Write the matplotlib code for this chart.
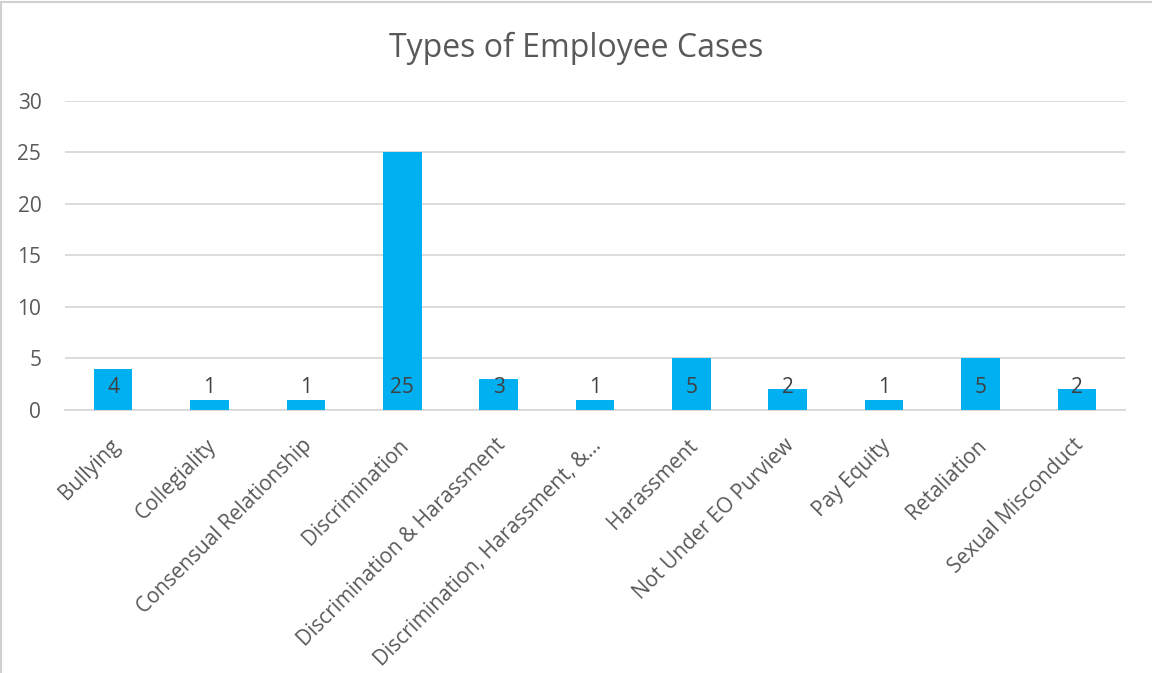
import matplotlib
matplotlib.use("Agg")
import matplotlib.pyplot as plt
import matplotlib.transforms as mtransforms
from matplotlib.patches import Rectangle

categories = [
    "Bullying",
    "Collegiality",
    "Consensual Relationship",
    "Discrimination",
    "Discrimination & Harassment",
    "Discrimination, Harassment, &...",
    "Harassment",
    "Not Under EO Purview",
    "Pay Equity",
    "Retaliation",
    "Sexual Misconduct",
]
cases = [4, 1, 1, 25, 3, 1, 5, 2, 1, 5, 2]
y_ticks = [0, 5, 10, 15, 20, 25, 30]

plt.rcParams["font.family"] = ["Open Sans", "DejaVu Sans"]

BAR = "#00B0F0"
TEXT = "#595959"
GRID = "#D9D9D9"

fig = plt.figure(figsize=(11.52, 6.73), dpi=100)
fig.patch.set_facecolor("white")

# thin chart-area border
fig.add_artist(Rectangle((0.001, -0.01), 1.2, 1.007, transform=fig.transFigure,
                         fill=False, edgecolor="#D0D0D0", linewidth=1.5))

ax = fig.add_axes([0.0564, 0.3908, 0.9202, 0.4592])
x = list(range(len(categories)))
ax.bar(x, cases, width=0.4, color=BAR, zorder=3)

ax.set_xlim(-0.5, len(categories) - 0.5)
ax.set_ylim(0, 30)
ax.set_yticks(y_ticks)
ax.set_yticklabels([str(t) for t in y_ticks], fontsize=15, color=TEXT)
ax.tick_params(axis="y", length=0, pad=17)
ax.tick_params(axis="x", length=0)
ax.yaxis.grid(True, color=GRID, linewidth=1.3, zorder=0)
ax.set_axisbelow(True)
for side in ["top", "right", "left"]:
    ax.spines[side].set_visible(False)
ax.spines["bottom"].set_color(GRID)
ax.spines["bottom"].set_linewidth(1.3)

ax.set_xticks(x)
ax.set_xticklabels(categories, rotation=45, ha="right", va="top",
                   rotation_mode="anchor", fontsize=15, color=TEXT)
offset = mtransforms.ScaledTranslation(-4 / 100, -20 / 100, fig.dpi_scale_trans)
for lbl in ax.get_xticklabels():
    lbl.set_transform(lbl.get_transform() + offset)

# value labels placed at the inside base of each bar
for xi, v in zip(x, cases):
    ax.annotate(str(v), xy=(xi, 0), xytext=(0, 16.5), textcoords="offset points",
                ha="center", va="center", fontsize=15, color="#404040", zorder=4)

fig.text(0.5, 0.928, "Types of Employee Cases", ha="center", va="center",
         fontsize=23, color=TEXT)

fig.savefig("out.png", dpi=100)
